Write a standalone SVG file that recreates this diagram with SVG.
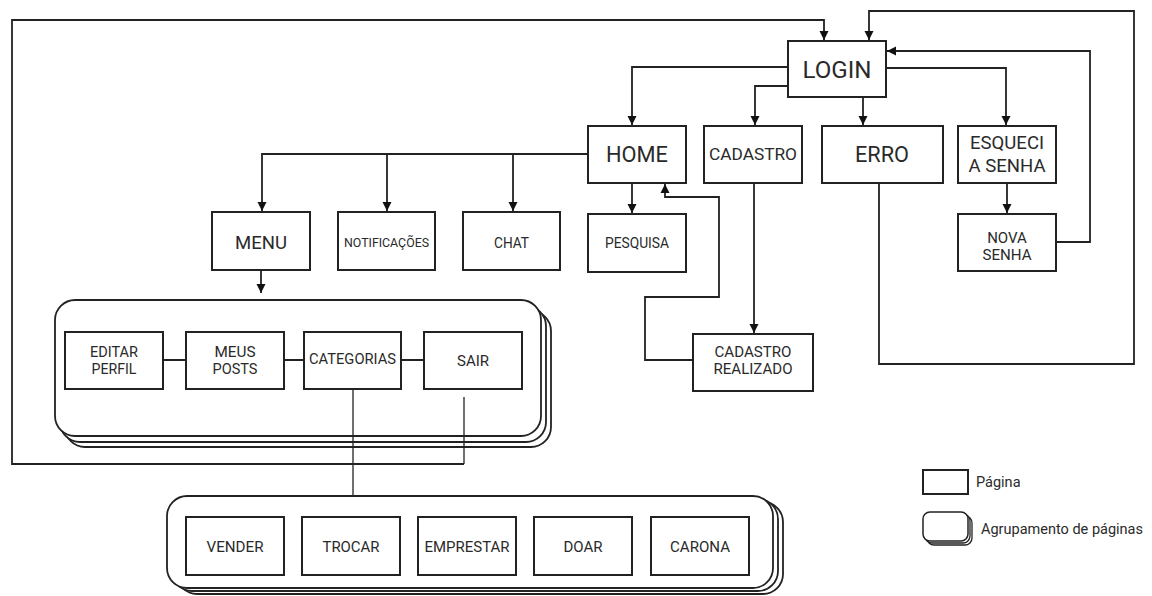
<svg xmlns="http://www.w3.org/2000/svg" width="1152" height="596" viewBox="0 0 1152 596">
<defs>
<style>
.b{fill:#fff;stroke:#222;stroke-width:2}
.g{fill:#fff;stroke:#222;stroke-width:1.8}
.t{font-family:Roboto,"Liberation Sans",sans-serif;fill:#2a2a2a;text-anchor:middle}
.c{fill:none;stroke:#222;stroke-width:1.8}
.th{fill:none;stroke:#222;stroke-width:1.3}
</style>
<marker id="a" markerWidth="10" markerHeight="10" refX="9" refY="5" orient="auto" markerUnits="userSpaceOnUse">
<path d="M0,0.5 L9,5 L0,9.5 Z" fill="#111"/>
</marker>
</defs>
<rect width="1152" height="596" fill="#fff"/>

<g id="connectors">
<path class="c" d="M788,67 H632 V125" marker-end="url(#a)"/>
<path class="c" d="M788,86 H755 V125" marker-end="url(#a)"/>
<path class="c" d="M863,97 V125" marker-end="url(#a)"/>
<path class="c" d="M886,68 H1006 V125" marker-end="url(#a)"/>
<path class="c" d="M1007,183 V213" marker-end="url(#a)"/>
<path class="c" d="M754,183 V333" marker-end="url(#a)"/>
<path class="c" d="M693,360 H645 V297 H719 V197 H665 V184" marker-end="url(#a)"/>
<path class="c" d="M632,183 V213" marker-end="url(#a)"/>
<path class="c" d="M588,154 H262 V211" marker-end="url(#a)"/>
<path class="c" d="M387,154 V211" marker-end="url(#a)"/>
<path class="c" d="M513,154 V211" marker-end="url(#a)"/>
<path class="c" d="M261,270 V293" marker-end="url(#a)"/>
<path class="c" d="M1056,242 H1090 V51 H887" marker-end="url(#a)"/>
<path class="c" d="M879,183 V364 H1134 V11 H869 V40" marker-end="url(#a)"/>
<path class="c" d="M464,464 H12 V20 H824 V40" marker-end="url(#a)"/>
</g>

<g id="LOGIN"><rect class="b" x="788" y="41" width="98" height="56"/><text class="t" x="837" y="78" font-size="24" textLength="69" lengthAdjust="spacingAndGlyphs">LOGIN</text></g>
<g id="HOME"><rect class="b" x="588" y="126" width="98" height="57"/><text class="t" x="637" y="162" font-size="22" textLength="62" lengthAdjust="spacingAndGlyphs">HOME</text></g>
<g id="CADASTRO"><rect class="b" x="704" y="126" width="98" height="57"/><text class="t" x="753" y="160" font-size="17" textLength="88" lengthAdjust="spacingAndGlyphs">CADASTRO</text></g>
<g id="ERRO"><rect class="b" x="822" y="126" width="121" height="57"/><text class="t" x="882" y="162" font-size="22" textLength="54" lengthAdjust="spacingAndGlyphs">ERRO</text></g>
<g id="ESQUECI"><rect class="b" x="958" y="126" width="98" height="57"/><text class="t" x="1007" y="149" font-size="17.5" textLength="74" lengthAdjust="spacingAndGlyphs">ESQUECI</text><text class="t" x="1007" y="172" font-size="17.5" textLength="77" lengthAdjust="spacingAndGlyphs">A SENHA</text></g>
<g id="NOVA_SENHA"><rect class="b" x="958" y="214" width="98" height="57"/><text class="t" x="1007" y="243" font-size="15">NOVA</text><text class="t" x="1007" y="260" font-size="15" textLength="49" lengthAdjust="spacingAndGlyphs">SENHA</text></g>
<g id="CADASTRO_REALIZADO"><rect class="b" x="693" y="334" width="120" height="57"/><text class="t" x="753" y="357" font-size="15" textLength="77" lengthAdjust="spacingAndGlyphs">CADASTRO</text><text class="t" x="753" y="374" font-size="15" textLength="79" lengthAdjust="spacingAndGlyphs">REALIZADO</text></g>
<g id="MENU"><rect class="b" x="212" y="212" width="98" height="58"/><text class="t" x="261" y="249" font-size="19" textLength="52" lengthAdjust="spacingAndGlyphs">MENU</text></g>
<g id="NOTIFICACOES"><rect class="b" x="338" y="212" width="97" height="58"/><text class="t" x="386.5" y="247" font-size="13" textLength="85" lengthAdjust="spacingAndGlyphs">NOTIFICAÇÕES</text></g>
<g id="CHAT"><rect class="b" x="463" y="212" width="97" height="58"/><text class="t" x="511.5" y="248" font-size="14.5" textLength="35" lengthAdjust="spacingAndGlyphs">CHAT</text></g>
<g id="PESQUISA"><rect class="b" x="588" y="214" width="98" height="58"/><text class="t" x="637" y="248" font-size="15.5" textLength="64" lengthAdjust="spacingAndGlyphs">PESQUISA</text></g>

<g id="grupo_menu">
<rect class="g" x="65" y="311" width="486" height="136" rx="20"/>
<rect class="g" x="60" y="306" width="486" height="136" rx="20"/>
<rect class="g" x="55" y="300" width="486" height="136" rx="20"/>
<path class="c" d="M163,360 H186 M284,360 H304 M401,360 H424"/>
<g id="EDITAR_PERFIL"><rect class="b" x="65" y="332" width="98" height="57"/><text class="t" x="114" y="357" font-size="15" textLength="48" lengthAdjust="spacingAndGlyphs">EDITAR</text><text class="t" x="114" y="374" font-size="15" textLength="45" lengthAdjust="spacingAndGlyphs">PERFIL</text></g>
<g id="MEUS_POSTS"><rect class="b" x="186" y="332" width="98" height="57"/><text class="t" x="235" y="357" font-size="15" textLength="41" lengthAdjust="spacingAndGlyphs">MEUS</text><text class="t" x="235" y="374" font-size="15" textLength="45" lengthAdjust="spacingAndGlyphs">POSTS</text></g>
<g id="CATEGORIAS"><rect class="b" x="304" y="332" width="97" height="57"/><text class="t" x="352.5" y="364" font-size="15" textLength="87" lengthAdjust="spacingAndGlyphs">CATEGORIAS</text></g>
<g id="SAIR"><rect class="b" x="424" y="332" width="98" height="57"/><text class="t" x="473" y="366" font-size="15">SAIR</text></g>
<path class="th" d="M464,397 V464"/>
</g>

<path class="th" d="M353,389 V496"/>

<g id="grupo_categorias">
<rect class="g" x="177" y="502" width="606" height="92" rx="20"/>
<rect class="g" x="172" y="499" width="606" height="92" rx="20"/>
<rect class="g" x="167" y="496" width="606" height="92" rx="20"/>
<g id="VENDER"><rect class="b" x="186" y="517" width="98" height="58"/><text class="t" x="235" y="552" font-size="15" textLength="57" lengthAdjust="spacingAndGlyphs">VENDER</text></g>
<g id="TROCAR"><rect class="b" x="302" y="517" width="98" height="58"/><text class="t" x="351" y="552" font-size="15" textLength="57" lengthAdjust="spacingAndGlyphs">TROCAR</text></g>
<g id="EMPRESTAR"><rect class="b" x="418" y="517" width="98" height="58"/><text class="t" x="467" y="552" font-size="15" textLength="85" lengthAdjust="spacingAndGlyphs">EMPRESTAR</text></g>
<g id="DOAR"><rect class="b" x="534" y="517" width="98" height="58"/><text class="t" x="583" y="552" font-size="15">DOAR</text></g>
<g id="CARONA"><rect class="b" x="651" y="517" width="98" height="58"/><text class="t" x="700" y="552" font-size="15" textLength="60" lengthAdjust="spacingAndGlyphs">CARONA</text></g>
</g>

<g id="legenda">
<rect class="b" x="923" y="470" width="45" height="24"/>
<text x="976" y="487" font-size="14.5" font-family="Roboto,'Liberation Sans',sans-serif" fill="#2a2a2a">Página</text>
<rect fill="#fff" stroke="#222" stroke-width="1.3" x="927" y="516" width="45" height="29" rx="7"/>
<rect fill="#fff" stroke="#222" stroke-width="1.3" x="925" y="514" width="45" height="29" rx="7"/>
<rect fill="#fff" stroke="#222" stroke-width="1.5" x="923" y="512" width="45" height="29" rx="7"/>
<text x="981" y="534" font-size="14.5" font-family="Roboto,'Liberation Sans',sans-serif" fill="#2a2a2a">Agrupamento de páginas</text>
</g>
</svg>
